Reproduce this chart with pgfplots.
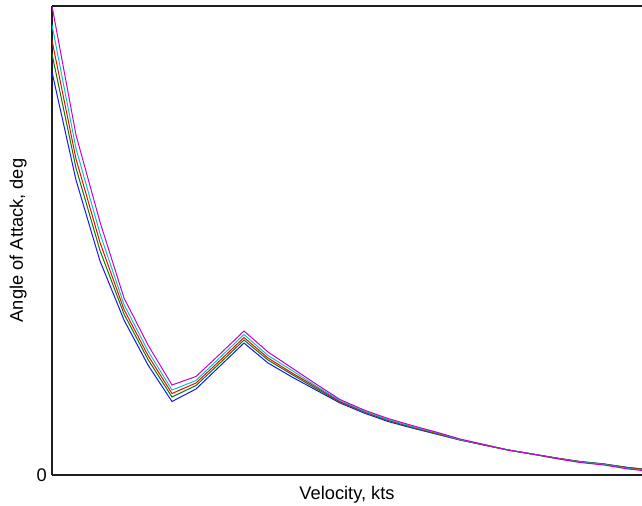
\documentclass[border=0pt]{standalone}
\usepackage{pgfplots}
\pgfplotsset{compat=1.18}
\usepackage{fontspec}
\setmainfont{Liberation Sans}
\definecolor{cBlue}{RGB}{20,20,255}
\definecolor{cGreen}{RGB}{0,128,0}
\definecolor{cRed}{RGB}{255,0,0}
\definecolor{cCyan}{RGB}{0,200,200}
\definecolor{cMag}{RGB}{200,0,210}
\definecolor{axgray}{RGB}{30,30,30}
\begin{document}
\begin{tikzpicture}
\begin{axis}[
  name=ax,
  scale only axis,
  width=442.5pt, height=351.75pt,
  xmin=0, xmax=590, ymin=0, ymax=469,
  axis x line*=bottom, axis y line*=left,
  axis line style={line width=1pt, color=axgray},
  xtick=\empty,
  ytick={0}, yticklabels={0},
  major tick length=0pt,
  /pgf/number format/assume math mode=true,
  yticklabel style={inner sep=0pt, xshift=-3.75pt, font=\fontsize{13.7}{16}\selectfont},
  every axis x label/.style={at={(axis description cs:0.5,0)}, anchor=base, yshift=-18.75pt, font=\fontsize{13.7}{16}\selectfont},
  every axis y label/.style={at={(axis description cs:0,0.5)}, xshift=-21.75pt, rotate=90, anchor=base, font=\fontsize{13.7}{16}\selectfont},
  xlabel={Velocity, kts},
  ylabel={Angle of Attack, deg},
  clip=true,
  every axis plot/.append style={line width=0.75pt, mark=none},
]
\addplot[cBlue] coordinates {
(0,403) (24,295) (48,214) (72,155) (96,110) (120,73.5) (144,86) (168,109) (192,132) (216,112) (240,98) (264,85) (288,72) (312,62) (336,53.5) (360,47) (384,41) (408,35) (432,30) (456,25) (480,21) (504,17) (528,13.5) (552,11) (576,7.5) (600,5)};
\addplot[cGreen] coordinates {
(0,421) (24,307) (48,224.5) (72,161) (96,115.5) (120,78) (144,89.5) (168,112) (192,135) (216,115) (240,100.5) (264,86.5) (288,73) (312,63) (336,54.5) (360,47.5) (384,41.5) (408,35) (432,30) (456,25) (480,21) (504,17) (528,13.5) (552,11) (576,7.5) (600,5)};
\addplot[cRed] coordinates {
(0,434.5) (24,316) (48,232.5) (72,165.5) (96,119.5) (120,81.5) (144,92) (168,114.5) (192,137.5) (216,117) (240,102) (264,88) (288,73.5) (312,63.5) (336,55) (360,48) (384,42) (408,35.5) (432,30) (456,25) (480,21) (504,17) (528,13) (552,10.5) (576,7) (600,4.5)};
\addplot[cCyan] coordinates {
(0,450) (24,326.5) (48,241.5) (72,170.5) (96,124) (120,85) (144,94.5) (168,117.5) (192,140.5) (216,119.5) (240,104.5) (264,89) (288,74.5) (312,64) (336,55.5) (360,48.5) (384,42.5) (408,35.5) (432,30.5) (456,25) (480,21) (504,16.5) (528,13) (552,10.5) (576,6.5) (600,4)};
\addplot[cMag] coordinates {
(0,469) (24,340) (48,253) (72,177) (96,130) (120,90) (144,98.5) (168,121) (192,144) (216,123) (240,107) (264,91) (288,75.5) (312,65) (336,56.5) (360,49.5) (384,43) (408,36) (432,30.5) (456,25) (480,21) (504,16.5) (528,12.5) (552,10) (576,6) (600,3.5)};
\draw[line width=1pt, axgray] (rel axis cs:0,1) -- (rel axis cs:1,1);
\end{axis}
\pgfresetboundingbox
\path ([shift={(-39pt,-23.25pt)}]ax.south west) rectangle ([shift={(0pt,4.5pt)}]ax.north east);
\end{tikzpicture}
\end{document}
